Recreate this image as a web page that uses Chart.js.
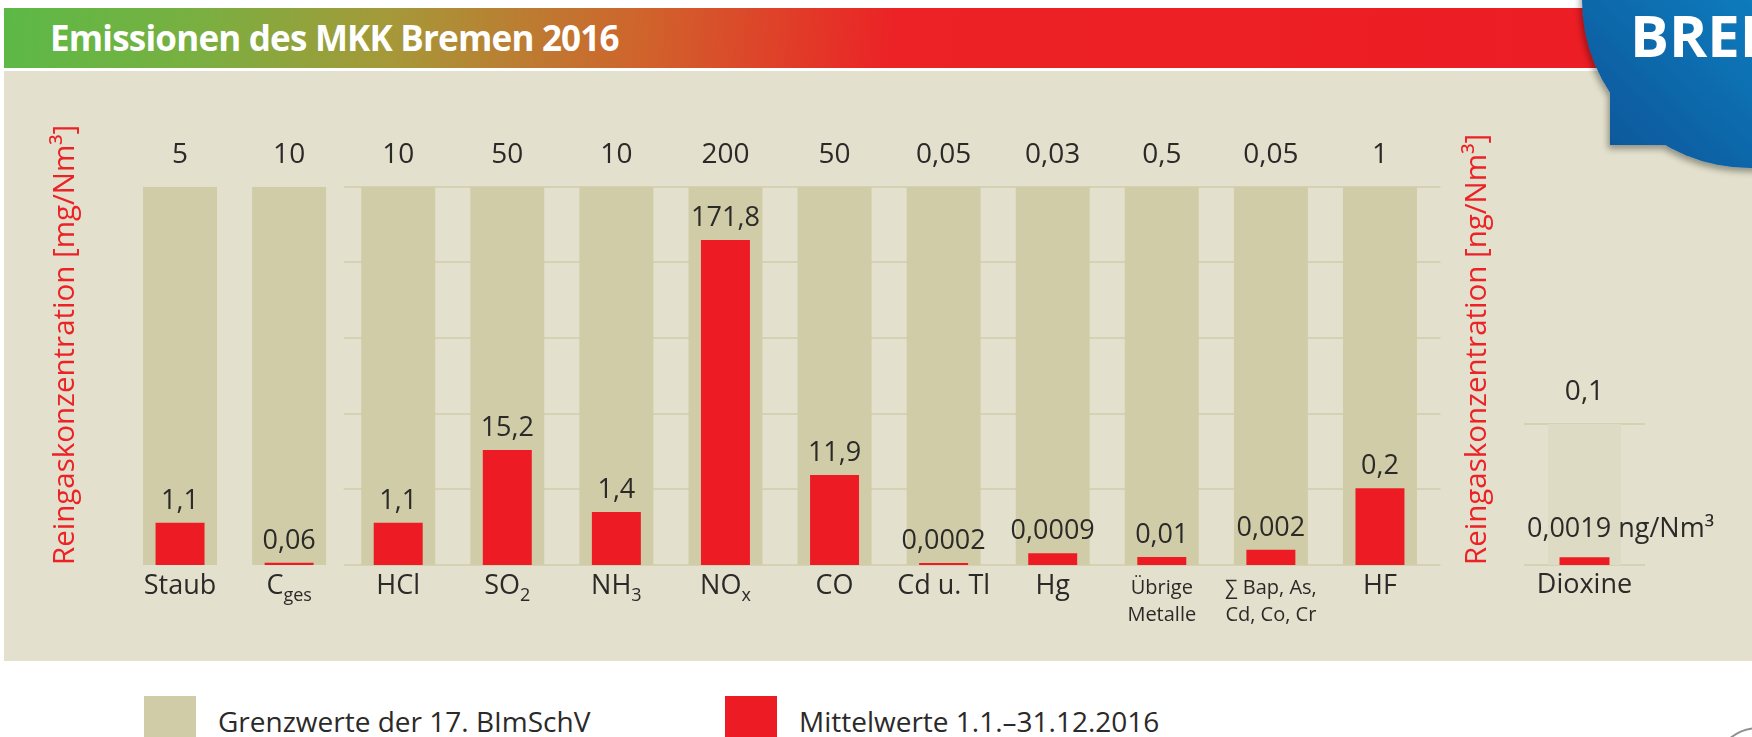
<!DOCTYPE html>
<html lang="de">
<head>
<meta charset="utf-8">
<title>Emissionen des MKK Bremen 2016</title>
<script src="https://cdn.jsdelivr.net/npm/chart.js@4.4.1/dist/chart.umd.min.js"></script>
<style>
html,body{margin:0;padding:0;background:#fff;}
#page{position:relative;width:1752px;height:737px;overflow:hidden;background:#fff;font-family:"Open Sans",sans-serif;}
#banner{position:absolute;left:4px;top:8px;width:1748px;height:60px;
  background:linear-gradient(95deg,#5cb946 0px,#78b041 190px,#a69838 390px,#d0632c 640px,#ec2226 890px,#ed1c24 1748px);}
#title{position:absolute;left:46px;top:12px;margin:0;font:700 35px/1 "Open Sans",sans-serif;letter-spacing:-0.8px;color:#fff;white-space:nowrap;}
#panel{position:absolute;left:4px;top:71px;width:1748px;height:590px;background:#e3e1cd;}
#mainChart{position:absolute;left:0;top:71px;}
#dioxChart{position:absolute;left:1440px;top:71px;}
#badge{position:absolute;left:0;top:0;}
.lgbox{position:absolute;top:696px;width:52px;height:52px;}
.lgtxt{position:absolute;top:707px;font:400 28px/1 "Open Sans",sans-serif;color:#2b2a29;white-space:nowrap;}
#ring{position:absolute;left:1712px;top:727px;width:90px;height:90px;border:2px solid #8f8f8f;border-radius:50%;}
</style>
</head>
<body>
<div id="page">
  <div id="banner"><h1 id="title">Emissionen des MKK Bremen 2016</h1></div>
  <div id="panel"></div>
  <canvas id="mainChart" width="1500" height="590"></canvas>
  <canvas id="dioxChart" width="312" height="590"></canvas>
  <svg id="badge" width="1752" height="200" viewBox="0 0 1752 200">
    <defs>
      <linearGradient id="bg" gradientUnits="userSpaceOnUse" x1="1610" y1="150" x2="1752" y2="0">
        <stop offset="0" stop-color="#07589b"/>
        <stop offset="1" stop-color="#0b7bbd"/>
      </linearGradient>
      <filter id="sh" x="-20%" y="-20%" width="140%" height="140%">
        <feDropShadow dx="-2" dy="4" stdDeviation="3" flood-color="#000" flood-opacity="0.35"/>
      </filter>
    </defs>
    <g filter="url(#sh)" fill="url(#bg)">
      <circle cx="1750" cy="0" r="168"/>
      <rect x="1610" y="-5" width="150" height="150"/>
    </g>
    <text x="1630" y="57" fill="#fff" font-family="Open Sans, sans-serif" font-weight="700" font-size="58">BREMEN</text>
  </svg>
  <div class="lgbox" id="lg1" style="left:144px;"></div>
  <div class="lgtxt" id="lt1" style="left:218px;"></div>
  <div class="lgbox" id="lg2" style="left:725px;"></div>
  <div class="lgtxt" id="lt2" style="left:799px;"></div>
  <div id="ring"></div>
</div>
<script>
// ---------- data ----------
const categories = ["Staub", "C", "HCl", "SO", "NH", "NO", "CO", "Cd u. Tl", "Hg", ["Übrige", "Metalle"], ["∑ Bap, As,", "Cd, Co, Cr"], "HF"];
const categorySubscripts = ["", "ges", "", "2", "3", "x", "", "", "", "", "", ""];
const limitValues = [5, 10, 10, 50, 10, 200, 50, 0.05, 0.03, 0.5, 0.05, 1];          // mg/Nm³
const meanValues = [1.1, 0.06, 1.1, 15.2, 1.4, 171.8, 11.9, 0.0002, 0.0009, 0.01, 0.002, 0.2]; // mg/Nm³
const limitBarPct = [100, 100, 100, 100, 100, 100, 100, 100, 100, 100, 100, 100];   // limit = full bar
const meanBarPct = [11.2, 0.6, 11.2, 30.4, 14, 85.9, 23.8, 0.5, 3.1, 2.1, 4, 20.3];   // bar heights (% of limit)

const dioxinCategories = ["Dioxine"];
const dioxinLimitValues = [0.1];      // ng/Nm³
const dioxinMeanValues = [0.0019];    // ng/Nm³
const dioxinLimitBarPct = [100];
const dioxinMeanBarPct = [5.5];
const dioxinUnit = "ng/Nm³";

const yTitleMg = "Reingaskonzentration [mg/Nm³]";
const yTitleNg = "Reingaskonzentration [ng/Nm³]";
const legendLabels = ["Grenzwerte der 17. BImSchV", "Mittelwerte 1.1.–31.12.2016"];

// ---------- style ----------
const C_GRAY = "#cfcca7", C_RED = "#ed1c24", C_TEXT = "#2b2a29", C_GRID = "#d4d2b3", C_TITLE = "#ec2227";
const FONT = '"Open Sans", sans-serif';
const fmt = v => String(v).replace(".", ",");

document.getElementById("lg1").style.background = C_GRAY;
document.getElementById("lg2").style.background = C_RED;
document.getElementById("lt1").textContent = legendLabels[0];
document.getElementById("lt2").textContent = legendLabels[1];

const panelPlugin = {
  id: "panelDraw",
  beforeDatasetsDraw(chart, args, o) {
    const {ctx, chartArea} = chart;
    const x = chart.scales.x, y = chart.scales.y;
    const x0 = x.getPixelForValue(o.gridFrom);
    const x1 = chartArea.right + o.gridExtra;
    ctx.save();
    ctx.strokeStyle = o.gridColor;
    ctx.lineWidth = 2;
    y.ticks.forEach(t => {
      const py = Math.round(y.getPixelForValue(t.value));
      ctx.beginPath(); ctx.moveTo(x0, py); ctx.lineTo(x1, py); ctx.stroke();
    });
    ctx.restore();
  },
  afterDatasetsDraw(chart, args, o) {
    const {ctx, chartArea} = chart;
    const x = chart.scales.x;
    const meta = chart.getDatasetMeta(1);
    ctx.save();
    ctx.fillStyle = C_TEXT;
    ctx.textBaseline = "alphabetic";
    // value labels above the red bars
    ctx.font = `${o.valueSize}px ${FONT}`;
    meta.data.forEach((bar, i) => {
      if (o.valueAlign === "left") {
        ctx.textAlign = "left";
        ctx.fillText(o.valueLabels[i], chartArea.left + o.valueDx, bar.y - o.valueGap);
      } else {
        ctx.textAlign = "center";
        ctx.fillText(o.valueLabels[i], bar.x, bar.y - o.valueGap);
      }
    });
    // category labels below the axis (with subscripts)
    chart.data.labels.forEach((lab, i) => {
      const cx = x.getPixelForValue(i);
      const base = chartArea.bottom + o.catGap;
      if (Array.isArray(lab)) {
        ctx.font = `${o.catSmall}px ${FONT}`;
        ctx.textAlign = "center";
        lab.forEach((line, k) => ctx.fillText(line, cx, base + k * o.catLine));
      } else {
        const sub = (o.subs && o.subs[i]) || "";
        ctx.font = `${o.catSize}px ${FONT}`;
        const wb = ctx.measureText(lab).width;
        ctx.font = `${o.subSize}px ${FONT}`;
        const ws = sub ? ctx.measureText(sub).width : 0;
        const sx = cx - (wb + ws) / 2;
        ctx.textAlign = "left";
        ctx.font = `${o.catSize}px ${FONT}`;
        ctx.fillText(lab, sx, base);
        if (sub) { ctx.font = `${o.subSize}px ${FONT}`; ctx.fillText(sub, sx + wb, base + 7); }
      }
    });
    ctx.restore();
  }
};

function makeChart(canvasId, cfg) {
  return new Chart(document.getElementById(canvasId), {
    type: "bar",
    data: {
      labels: cfg.labels,
      datasets: [
        { label: legendLabels[0], data: cfg.limitPct, backgroundColor: cfg.grayColor, borderWidth: 0,
          barPercentage: cfg.grayPct, categoryPercentage: 1, grouped: false, order: 2 },
        { label: legendLabels[1], data: cfg.meanPct, backgroundColor: C_RED, borderWidth: 0,
          barPercentage: cfg.redPct, categoryPercentage: 1, grouped: false, order: 1 }
      ]
    },
    options: {
      responsive: false, animation: false, devicePixelRatio: 1,
      layout: { padding: { left: 0, right: cfg.padRight, top: 0, bottom: 0 } },
      plugins: {
        legend: { display: false }, tooltip: { enabled: false },
        panelDraw: cfg.plugin
      },
      scales: {
        x: { type: "category", offset: true, grid: { display: false, drawTicks: false }, border: { display: false },
             ticks: { display: false }, afterFit: s => { s.height = cfg.bottomH; } },
        x2: { type: "category", position: "top", labels: cfg.topLabels, offset: true,
              grid: { display: false, drawTicks: false }, border: { display: false },
              ticks: { color: C_TEXT, font: { family: FONT, size: 28 }, padding: 15, autoSkip: false, maxRotation: 0 },
              afterFit: s => { s.height = cfg.topH; } },
        y: { min: 0, max: 100, ticks: { display: false, stepSize: cfg.step }, grid: { display: false, drawTicks: false },
             border: { display: false },
             title: { display: true, text: cfg.yTitle, color: C_TITLE, align: "start",
                      font: { family: FONT, size: 29.5 }, padding: { top: cfg.titlePad, bottom: 0 } },
             afterFit: s => { s.width = cfg.leftW; } }
      }
    },
    plugins: [panelPlugin]
  });
}

function draw() {
  makeChart("mainChart", {
    labels: categories, limitPct: limitBarPct, meanPct: meanBarPct,
    grayColor: C_GRAY, grayPct: 0.678, redPct: 0.449,
    topLabels: limitValues.map(fmt), yTitle: yTitleMg,
    padRight: 65.5, leftW: 125.5, topH: 115.7, bottomH: 96, titlePad: 48, step: 20,
    plugin: { gridFrom: 1.5, gridExtra: 6, gridColor: C_GRID,
              valueLabels: meanValues.map(fmt), valueSize: 27, valueGap: 14,
              subs: categorySubscripts, catSize: 27, subSize: 18, catSmall: 20, catLine: 27, catGap: 29 }
  });
  makeChart("dioxChart", {
    labels: dioxinCategories, limitPct: dioxinLimitBarPct, meanPct: dioxinMeanBarPct,
    grayColor: "#dddbc3", grayPct: 0.603, redPct: 0.413,
    topLabels: dioxinLimitValues.map(fmt), yTitle: yTitleNg,
    padRight: 107, leftW: 84, topH: 353, bottomH: 96, titlePad: 20, step: 100,
    plugin: { gridFrom: -0.5, gridExtra: 0, gridColor: C_GRID,
              valueLabels: dioxinMeanValues.map(v => fmt(v) + " " + dioxinUnit), valueSize: 27, valueGap: 20,
              valueAlign: "left", valueDx: 3,
              subs: [""], catSize: 27, subSize: 18, catSmall: 20, catLine: 27, catGap: 28 }
  });
}
Promise.all([document.fonts.load('27px "Open Sans"'), document.fonts.load('700 35px "Open Sans"')])
  .then(draw, draw);
</script>
</body>
</html>
